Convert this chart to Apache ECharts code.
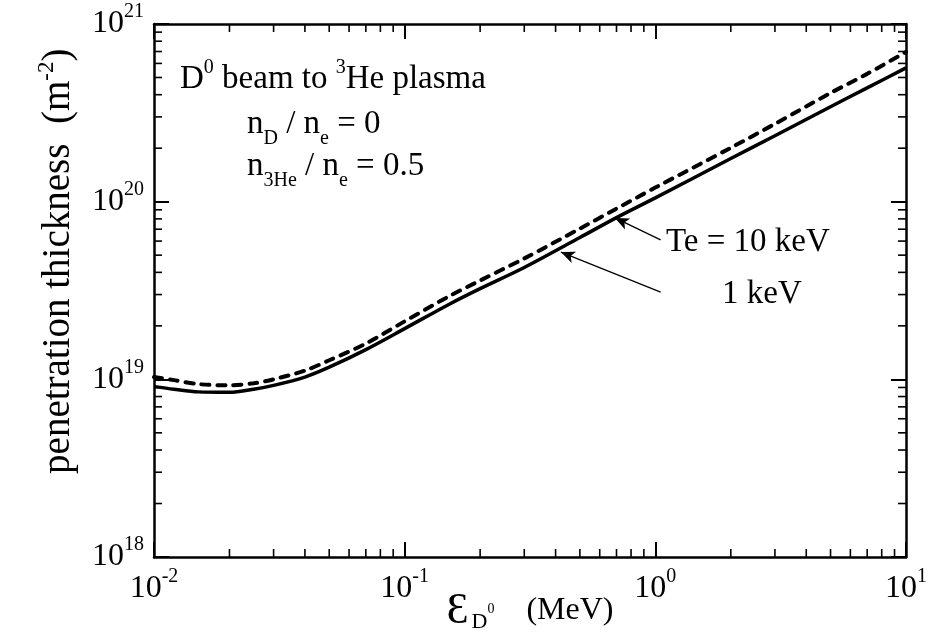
<!DOCTYPE html>
<html><head><meta charset="utf-8">
<script src="https://cdn.jsdelivr.net/npm/echarts@6/dist/echarts.min.js"></script>
<style>html,body{margin:0;padding:0;background:#fff}#c{width:930px;height:644px}</style>
</head><body><div id="c"></div>
<script>
// ---- data ----
const energy = [0.01, 0.012, 0.015, 0.02, 0.025, 0.03, 0.04, 0.05, 0.07, 0.1, 0.15, 0.2, 0.3, 0.5, 0.7, 1, 2, 3, 5, 7, 10];
const thicknessTe10 = [1.03e19, 9.9e18, 9.4e18, 9.25e18, 9.5e18, 1.0e19, 1.12e19, 1.28e19, 1.59e19, 2.12e19, 2.93e19, 3.60e19, 4.79e19, 7.05e19, 9.14e19, 1.20e20, 2.01e20, 2.74e20, 4.09e20, 5.24e20, 6.96e20];
const thicknessTe1 = [9.1e18, 8.8e18, 8.5e18, 8.45e18, 8.8e18, 9.25e18, 1.03e19, 1.17e19, 1.47e19, 1.93e19, 2.64e19, 3.24e19, 4.26e19, 6.28e19, 8.13e19, 1.05e20, 1.75e20, 2.35e20, 3.42e20, 4.37e20, 5.66e20];
const xRange = [0.01, 10];
const yRange = [1e18, 1e21];
const xMinorTicks = [0.02,0.03,0.04,0.05,0.06,0.07,0.08,0.09, 0.2,0.3,0.4,0.5,0.6,0.7,0.8,0.9, 2,3,4,5,6,7,8,9];
const yMinorTicks = [2e18,3e18,4e18,5e18,6e18,7e18,8e18,9e18, 2e19,3e19,4e19,5e19,6e19,7e19,8e19,9e19, 2e20,3e20,4e20,5e20,6e20,7e20,8e20,9e20];
const arrowTe10 = [[1.05, 6.1e19], [0.69, 8.1e19]];
const arrowTe1 = [[1.05, 3.1e19], [0.42, 5.2e19]];

const F = '"Liberation Serif", "DejaVu Serif", serif';
const chart = echarts.init(document.getElementById('c'), null, {renderer: 'canvas'});

const expLabel = v => '{b|10}{s|' + Math.round(Math.log10(v)) + '}';
const tickRich = {
  b: {fontSize: 32, lineHeight: 36, fontFamily: F, color: '#000'},
  s: {fontSize: 20, fontFamily: F, color: '#000', padding: [0, 0, 24, 0]}
};
const frameAxis = (extra) => Object.assign({
  type: 'log', logBase: 10, interval: 1,
  axisLine: {show: true, onZero: false, lineStyle: {color: '#000', width: 2.5}},
  axisTick: {show: true, inside: true, length: 15, lineStyle: {color: '#000', width: 2}},
  splitLine: {show: false},
  minorTick: {show: false},
  nameMoveOverlap: false
}, extra);

function tickItem(isX) {
  return function (params, api) {
    const v = api.value(isX ? 0 : 1);
    const L = 8, st = {stroke: '#000', lineWidth: 1.6};
    if (isX) {
      const b = api.coord([v, yRange[0]]), t = api.coord([v, yRange[1]]);
      return {type: 'group', children: [
        {type: 'line', shape: {x1: b[0], y1: b[1], x2: b[0], y2: b[1] - L}, style: st},
        {type: 'line', shape: {x1: t[0], y1: t[1], x2: t[0], y2: t[1] + L}, style: st}
      ]};
    } else {
      const l = api.coord([xRange[0], v]), r = api.coord([xRange[1], v]);
      return {type: 'group', children: [
        {type: 'line', shape: {x1: l[0], y1: l[1], x2: l[0] + L, y2: l[1]}, style: st},
        {type: 'line', shape: {x1: r[0], y1: r[1], x2: r[0] - L, y2: r[1]}, style: st}
      ]};
    }
  };
}

const annRich = {
  b: {fontSize: 33, lineHeight: 38, fontFamily: F, fill: '#000'},
  p: {fontSize: 20, fontFamily: F, fill: '#000', padding: [0, 0, 22, 0]},
  d: {fontSize: 20, fontFamily: F, fill: '#000', padding: [28, 0, 0, 0]}
};

chart.setOption({
  backgroundColor: '#fff',
  animation: false,
  grid: {left: 154, right: 24, top: 24, bottom: 87, containLabel: false, outerBoundsMode: 'none'},
  xAxis: [
    frameAxis({
      position: 'bottom', min: xRange[0], max: xRange[1],
      axisLabel: {margin: 10, formatter: expLabel, rich: tickRich},
      name: '{e|Ɛ}{d|D}{z|0}{b|    (MeV)}', nameLocation: 'middle', nameGap: 32,
      nameTextStyle: {rich: {
        e: {fontSize: 44, lineHeight: 44, fontFamily: F, color: '#000'},
        d: {fontSize: 22, fontFamily: F, color: '#000', padding: [22, 0, 0, 3]},
        z: {fontSize: 14, fontFamily: F, color: '#000', padding: [0, 0, 4, 0]},
        b: {fontSize: 32, lineHeight: 44, fontFamily: F, color: '#000'}
      }}
    }),
    frameAxis({position: 'top', min: xRange[0], max: xRange[1], axisLabel: {show: false}})
  ],
  yAxis: [
    frameAxis({
      position: 'left', min: yRange[0], max: yRange[1],
      axisLabel: {margin: 10, formatter: expLabel, rich: tickRich},
      name: '{b|      penetration thickness  (m}{p|-2}{b|)}', nameLocation: 'middle', nameGap: 72,
      nameTextStyle: {rich: {
        b: {fontSize: 39, lineHeight: 42, fontFamily: F, color: '#000'},
        p: {fontSize: 23, fontFamily: F, color: '#000', padding: [0, 0, 24, 0]}
      }}
    }),
    frameAxis({position: 'right', min: yRange[0], max: yRange[1], axisLabel: {show: false}})
  ],
  series: [
    {
      name: 'Te = 10 keV', type: 'line', xAxisIndex: 0, yAxisIndex: 0,
      data: energy.map((e, i) => [e, thicknessTe10[i]]),
      showSymbol: false, smooth: 0.3,
      lineStyle: {color: '#000', width: 4, type: [8, 8], cap: 'round'}
    },
    {
      name: 'Te = 1 keV', type: 'line', xAxisIndex: 0, yAxisIndex: 0,
      data: energy.map((e, i) => [e, thicknessTe1[i]]),
      showSymbol: false, smooth: 0.3,
      lineStyle: {color: '#000', width: 3.5, type: 'solid'},
      markLine: {
        silent: true, symbol: ['none', 'arrow'], symbolSize: [9, 14],
        label: {show: false},
        lineStyle: {color: '#000', width: 1.3, type: 'solid'},
        data: [
          [{coord: arrowTe10[0]}, {coord: arrowTe10[1]}],
          [{coord: arrowTe1[0]}, {coord: arrowTe1[1]}]
        ]
      }
    },
    {
      type: 'custom', xAxisIndex: 0, yAxisIndex: 0, silent: true, clip: false,
      data: xMinorTicks.map(v => [v, yRange[0] * 10]), encode: {x: 0, y: 1},
      renderItem: tickItem(true)
    },
    {
      type: 'custom', xAxisIndex: 0, yAxisIndex: 0, silent: true, clip: false,
      data: yMinorTicks.map(v => [xRange[0] * 10, v]), encode: {x: 0, y: 1},
      renderItem: tickItem(false)
    }
  ],
  graphic: [
    {type: 'text', left: 180, top: 58, silent: true,
     style: {text: '{b|D}{p|0}{b| beam to }{p|3}{b|He plasma}', rich: annRich}},
    {type: 'text', left: 247, top: 108, silent: true,
     style: {text: '{b|n}{d|D}{b| / n}{d|e}{b| = 0}', rich: annRich}},
    {type: 'text', left: 247, top: 150, silent: true,
     style: {text: '{b|n}{d|3He}{b| / n}{d|e}{b| = 0.5}', rich: annRich}},
    {type: 'text', left: 666, top: 226, silent: true,
     style: {text: '{b|Te = 10 keV}', rich: annRich}},
    {type: 'text', left: 722, top: 278, silent: true,
     style: {text: '{b|1 keV}', rich: annRich}}
  ]
});
</script>
</body></html>
